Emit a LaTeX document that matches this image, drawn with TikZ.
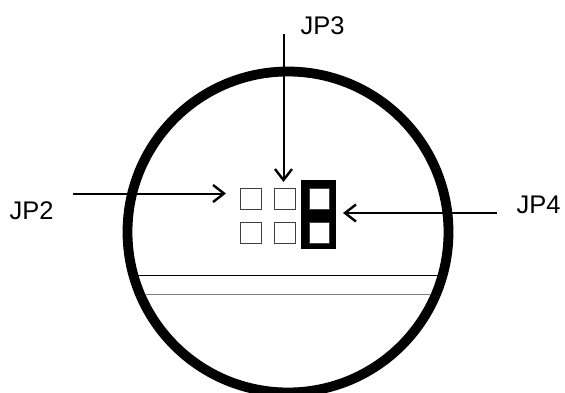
\documentclass[tikz,border=0pt]{standalone}
\usepackage{fontspec}
\setmainfont{Liberation Sans}
\usetikzlibrary{arrows.meta}
\tikzset{
  pin/.style={draw=black!75,line width=1pt,fill=white},
  lbl/.style={inner sep=0pt,font=\fontsize{25.5}{25.5}\selectfont,anchor=base west},
  pointer/.style={line width=2pt,-{Straight Barb[length=11pt,width=17pt,line width=2.4pt]}},
}
\begin{document}
\begin{tikzpicture}[x=1pt,y=-1pt]
\useasboundingbox (0,0) rectangle (565,392);
\draw[line width=9.8pt] (288,232) circle[radius=160.5];
\draw[line width=1pt] (138,275.3) -- (438,275.3);
\draw[line width=1.2pt,black!50] (146,294.7) -- (431,294.7);
\fill (301,180) rectangle (336,249);
\draw[pin] (240.5,188.5) rectangle (261,209);
\draw[pin] (274.5,188.5) rectangle (295,209);
\draw[pin] (240.5,222.5) rectangle (261,243);
\draw[pin] (274.5,222.5) rectangle (295,243);
\draw[pin] (309.5,188.5) rectangle (329,209);
\draw[pin] (309.5,222.5) rectangle (329,243);
\node[lbl] (jp3) at (300.5,34) {JP3};
\node[lbl] (jp2) at (9.5,219) {JP2};
\node[lbl] (jp4) at (516.5,213) {JP4};
\coordinate (a3) at (283.5,34);
\coordinate (b3) at (283.5,182);
\coordinate (a2) at (73,193.5);
\coordinate (b2) at (226,193.5);
\coordinate (a4) at (497,213);
\coordinate (b4) at (343,213);
\draw[pointer] (a3) -- (b3);
\draw[pointer] (a2) -- (b2);
\draw[pointer] (a4) -- (b4);
\end{tikzpicture}
\end{document}
